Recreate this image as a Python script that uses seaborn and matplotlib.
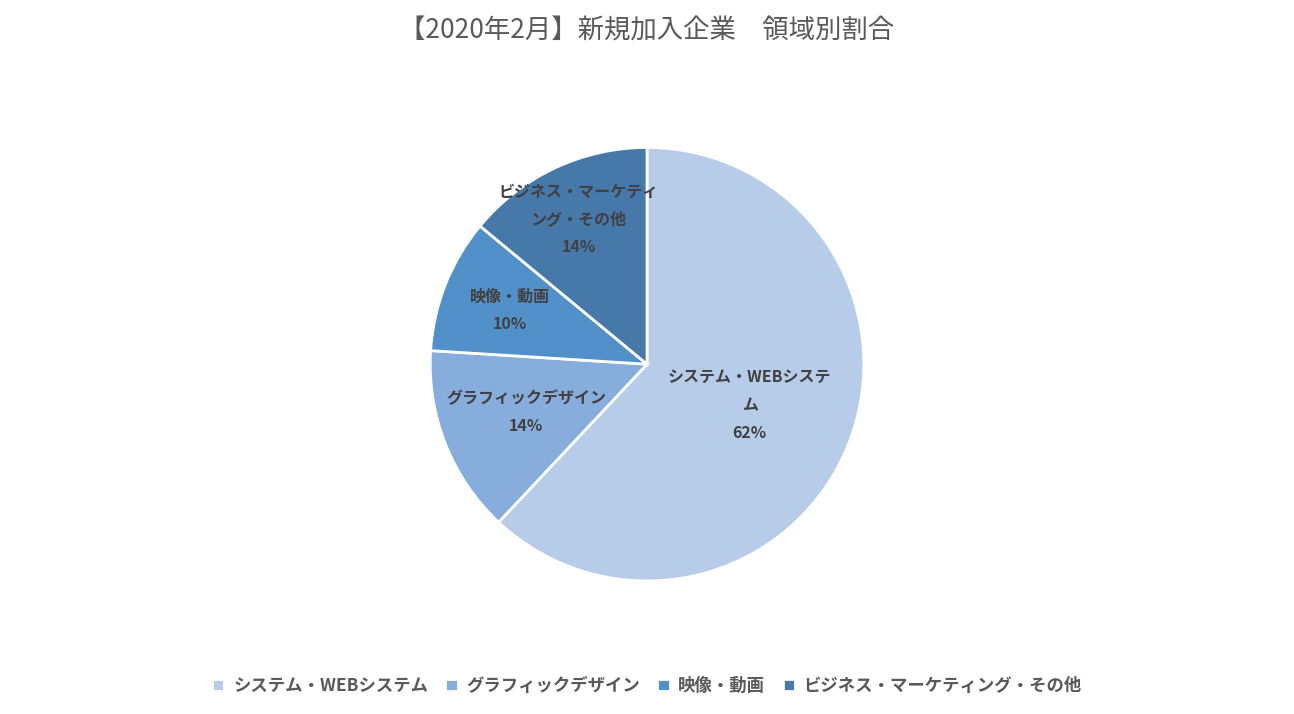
import matplotlib
matplotlib.use("Agg")
import matplotlib.pyplot as plt
import seaborn as sns
import numpy as np

categories = ["システム・WEBシステム", "グラフィックデザイン", "映像・動画", "ビジネス・マーケティング・その他"]
wrapped_labels = ["システム・WEBシステ\nム", "グラフィックデザイン", "映像・動画", "ビジネス・マーケティ\nング・その他"]
values = [62, 14, 10, 14]
colors = ["#B7CCE8", "#86ADDC", "#5290C9", "#4678A9"]
label_dist = [0.51, 0.6, 0.68, 0.74]

sns.set_theme(style="white")
plt.rcParams["font.family"] = "Noto Sans CJK JP"
fig = plt.figure(figsize=(12.94, 7.14), dpi=100)
ax = fig.add_axes([0.5 - 0.2095, 0.49 - 0.3796, 0.419, 0.759])
wedges, _ = ax.pie(values, colors=colors, startangle=90, counterclock=False,
                   wedgeprops=dict(edgecolor="white", linewidth=2))
total = sum(values)
for w, lab, v, d in zip(wedges, wrapped_labels, values, label_dist):
    ang = np.deg2rad((w.theta1 + w.theta2) / 2)
    x, y = d * np.cos(ang), d * np.sin(ang)
    ax.text(x, y, f"{lab}\n{round(100 * v / total)}%", ha="center", va="center",
            fontsize=11.5, fontweight="bold", color="#404040", linespacing=1.9)
ax.set_aspect("equal")
fig.suptitle("【2020年2月】新規加入企業　領域別割合", y=0.975, fontsize=19, color="#595959")
fig.legend(wedges, categories, loc="lower center", ncol=4, frameon=False,
           bbox_to_anchor=(0.5, 0.005), prop={"size": 12.5, "weight": "bold"},
           labelcolor="#595959", handlelength=0.7, handleheight=0.7, columnspacing=1.0, handletextpad=0.5)
fig.savefig("out.png", dpi=100, facecolor="white")
